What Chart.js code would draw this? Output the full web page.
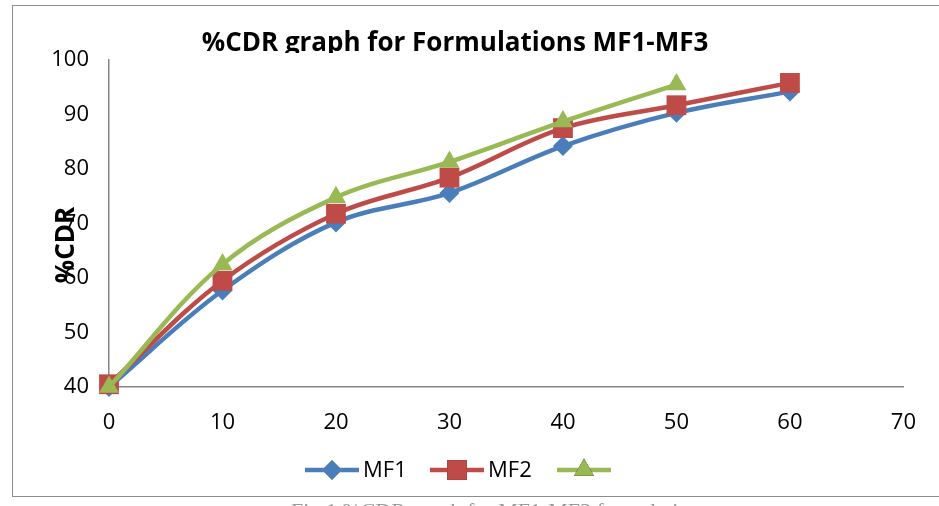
<!DOCTYPE html>
<html>
<head>
<meta charset="utf-8">
<script src="https://cdn.jsdelivr.net/npm/chart.js@4/dist/chart.umd.min.js"></script>
<style>
  html, body { margin: 0; padding: 0; background: #fff; }
  #wrap { width: 939px; height: 506px; }
</style>
</head>
<body>
<div id="wrap"><canvas id="cdr-chart" width="939" height="506"></canvas></div>
<script>
/* Data */
const time_points = [0, 10, 20, 30, 40, 50, 60];
const mf1 = [40, 57.7, 70.2, 75.6, 84.2, 90.3, 94.2];
const mf2 = [40.5, 59.5, 71.8, 78.4, 87.5, 91.7, 95.8];
const mf3 = [40, 62.5, 74.8, 81.3, 88.7, 95.5];
const series_names = ['MF1', 'MF2', ''];
const y_ticks = [40, 50, 60, 70, 80, 90, 100];
const x_ticks = [0, 10, 20, 30, 40, 50, 60, 70];

const colors = ['#4a7ebb', '#be4b48', '#98b954'];
const styles = ['rectRot', 'rect', 'triangle'];
const radii = [10, 14, 11.5];
const fontFam = '"Open Sans", "Noto Sans", sans-serif';

function toPoints(vals){
    return vals.map((v, i) => ({x: time_points[i], y: v}));
}

function makeSet(idx, vals){
    return {
        label: series_names[idx],
        data: toPoints(vals),
        borderColor: colors[idx],
        backgroundColor: colors[idx],
        borderWidth: 4.5,
        pointStyle: styles[idx],
        pointRadius: radii[idx],
        pointBorderWidth: 0,
        pointBackgroundColor: colors[idx],
        tension: 0.35,
        clip: false,
        order: 3 - idx
    };
}

/* title, axis title, legend, frame and caption */
const decorations = {
    id: 'decorations',
    afterDraw(chart){
        const ctx = chart.ctx;
        ctx.save();

        // outer frame
        ctx.strokeStyle = '#8c8c8c';
        ctx.lineWidth = 1;
        ctx.strokeRect(12.5, 5.5, 940, 491);

        // title, its lower part hidden behind the plot top
        ctx.save();
        ctx.beginPath();
        ctx.rect(0, 0, 939, 53);
        ctx.clip();
        ctx.fillStyle = '#000';
        ctx.font = 'bold 26px ' + fontFam;
        ctx.textAlign = 'center';
        ctx.textBaseline = 'alphabetic';
        ctx.fillText('%CDR graph for Formulations MF1-MF3', 455, 51);
        ctx.restore();

        // y axis title
        ctx.save();
        ctx.translate(67, 245);
        ctx.rotate(-Math.PI / 2);
        ctx.fillStyle = '#000';
        ctx.font = 'bold 26px ' + fontFam;
        ctx.textAlign = 'center';
        ctx.textBaseline = 'middle';
        ctx.fillText('%CDR', 0, 0);
        ctx.restore();

        // legend
        const legX = [305, 430, 557];
        const legY = 470;
        ctx.font = '22px ' + fontFam;
        ctx.textBaseline = 'middle';
        ctx.textAlign = 'left';
        for (let i = 0; i < series_names.length; i++){
            ctx.strokeStyle = colors[i];
            ctx.lineWidth = 4.5;
            ctx.beginPath();
            ctx.moveTo(legX[i], legY);
            ctx.lineTo(legX[i] + 54, legY);
            ctx.stroke();
            Chart.helpers.drawPoint(ctx, {
                pointStyle: styles[i], radius: radii[i], borderWidth: 0, rotation: 0
            }, legX[i] + 27, legY);
            ctx.fillStyle = colors[i];
            ctx.fill();
            ctx.fillStyle = '#000';
            ctx.fillText(series_names[i], legX[i] + 58, legY + 1);
        }

        // caption below the frame, mostly cut off
        ctx.fillStyle = '#9a9a9a';
        ctx.font = '22px "Times New Roman", "Liberation Serif", serif';
        ctx.textAlign = 'center';
        ctx.textBaseline = 'alphabetic';
        ctx.fillText('Fig 1 %CDR graph for MF1-MF3 formulations', 500, 518);

        ctx.restore();
    }
};

const ctx = document.getElementById('cdr-chart');
const cdr_chart = new Chart(ctx, {
    type: 'line',
    data: {
        datasets: [
            makeSet(0, mf1),
            makeSet(1, mf2),
            makeSet(2, mf3)
        ]
    },
    options: {
        responsive: false,
        animation: false,
        devicePixelRatio: 1,
        layout: { padding: { top: 60, right: 30, bottom: 0, left: 0 } },
        plugins: {
            legend: { display: false },
            title: { display: false },
            tooltip: { enabled: false }
        },
        scales: {
            x: {
                type: 'linear',
                min: 0,
                max: 70,
                afterFit: (s) => { s.height = 119; },
                afterBuildTicks: (s) => { s.ticks = x_ticks.map(v => ({value: v})); },
                grid: { display: false, drawTicks: false },
                border: { color: '#868686', width: 1.5 },
                ticks: {
                    padding: 23,
                    color: '#000',
                    font: { family: fontFam, size: 22 }
                }
            },
            y: {
                min: 40,
                max: 100,
                afterFit: (s) => { s.width = 109; },
                afterBuildTicks: (s) => { s.ticks = y_ticks.map(v => ({value: v})); },
                grid: { display: false, drawTicks: false },
                border: { color: '#868686', width: 1.5 },
                ticks: {
                    padding: 20,
                    color: '#000',
                    font: { family: fontFam, size: 22 }
                }
            }
        }
    },
    plugins: [decorations]
});
</script>
</body>
</html>
